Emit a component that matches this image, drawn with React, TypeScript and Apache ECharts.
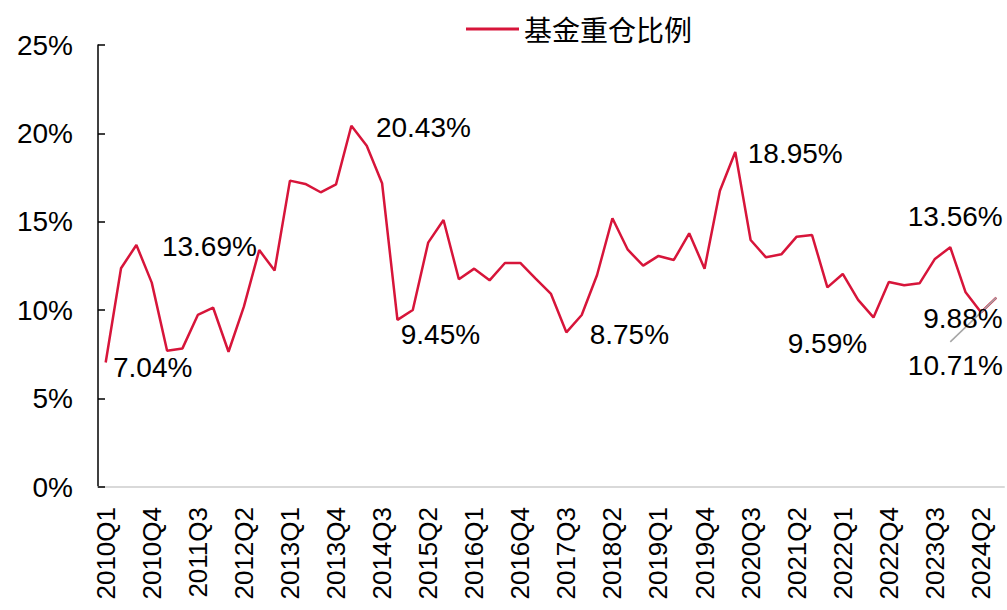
import React, { useEffect, useRef } from "react";
import * as echarts from "echarts";

const categories = [
  "2010Q1","2010Q2","2010Q3","2010Q4","2011Q1","2011Q2","2011Q3","2011Q4",
  "2012Q1","2012Q2","2012Q3","2012Q4","2013Q1","2013Q2","2013Q3","2013Q4",
  "2014Q1","2014Q2","2014Q3","2014Q4","2015Q1","2015Q2","2015Q3","2015Q4",
  "2016Q1","2016Q2","2016Q3","2016Q4","2017Q1","2017Q2","2017Q3","2017Q4",
  "2018Q1","2018Q2","2018Q3","2018Q4","2019Q1","2019Q2","2019Q3","2019Q4",
  "2020Q1","2020Q2","2020Q3","2020Q4","2021Q1","2021Q2","2021Q3","2021Q4",
  "2022Q1","2022Q2","2022Q3","2022Q4","2023Q1","2023Q2","2023Q3","2023Q4",
  "2024Q1","2024Q2","2024Q3",
];

const fundHoldingRatio = [
  7.04, 12.37, 13.69, 11.56, 7.71, 7.84, 9.73, 10.14,
  7.65, 10.2, 13.4, 12.24, 17.33, 17.14, 16.67, 17.12,
  20.43, 19.3, 17.18, 9.45, 10.01, 13.82, 15.1, 11.75,
  12.35, 11.69, 12.67, 12.67, 11.78, 10.92, 8.75, 9.73,
  11.99, 15.2, 13.42, 12.52, 13.07, 12.84, 14.35, 12.35,
  16.76, 18.95, 13.97, 12.99, 13.16, 14.16, 14.25, 11.29,
  12.05, 10.58, 9.59, 11.6, 11.41, 11.52, 12.9, 13.56,
  11.01, 9.88, 10.71,
];

const yTicks = [0, 5, 10, 15, 20, 25];
const seriesName = "基金重仓比例";

// annotated points (index in series) and label offsets (style)
const annotated = [
  { i: 0, off: [47, 5] },
  { i: 2, off: [73, 2] },
  { i: 16, off: [72, 2] },
  { i: 19, off: [43, 15] },
  { i: 30, off: [63, 2] },
  { i: 41, off: [60, 2] },
  { i: 50, off: [-46, 26] },
  { i: 55, off: [5, -31] },
  { i: 57, off: [-18, 6] },
  { i: 58, off: [-41, 68] },
];

const RED = "#D7153A";
const FONT = "'Liberation Sans', Arial, sans-serif";

export default function App() {
  const ref = useRef<HTMLDivElement>(null);
  useEffect(() => {
    if (!ref.current) return;
    const chart = echarts.init(ref.current, null, { renderer: "svg" });
    const last = categories.length - 1;
    chart.setOption({
      animation: false,
      backgroundColor: "#ffffff",
      legend: {
        left: 461,
        top: 10,
        icon: "rect",
        itemWidth: 53,
        itemHeight: 3,
        textStyle: { fontSize: 28, fontFamily: "'Noto Sans CJK SC'", color: "#000" },
        data: [seriesName],
      },
      grid: { left: 98, right: 3, top: 45, bottom: 123, containLabel: false },
      xAxis: {
        type: "category",
        data: categories,
        boundaryGap: true,
        axisLine: { show: true, lineStyle: { color: "#D9D9D9", width: 2 } },
        axisTick: { show: false },
        axisLabel: {
          interval: 2,
          rotate: 90,
          margin: 20,
          fontSize: 26,
          fontFamily: FONT,
          color: "#000",
        },
        splitLine: { show: false },
      },
      yAxis: {
        type: "value",
        min: yTicks[0],
        max: yTicks[yTicks.length - 1],
        interval: 5,
        axisLine: { show: true, lineStyle: { color: "#000", width: 1.5 } },
        axisTick: { show: true, inside: true, length: 7, lineStyle: { color: "#000", width: 1.5 } },
        axisLabel: {
          formatter: "{value}%",
          fontSize: 28,
          fontFamily: FONT,
          color: "#000",
          margin: 25,
        },
        splitLine: { show: false },
      },
      series: [
        {
          name: seriesName,
          type: "line",
          data: fundHoldingRatio,
          showSymbol: false,
          symbol: "none",
          lineStyle: { color: RED, width: 2.5 },
          itemStyle: { color: RED },
          markPoint: {
            symbol: "circle",
            symbolSize: 0,
            silent: true,
            label: {
              show: true,
              position: "inside",
              fontSize: 28,
              fontFamily: FONT,
              color: "#000",
              formatter: (p: any) => Number(p.value).toFixed(2) + "%",
            },
            data: annotated.map((a) => ({
              coord: [categories[a.i], fundHoldingRatio[a.i]],
              value: fundHoldingRatio[a.i],
              label: { offset: a.off },
            })),
          },
          markLine: {
            silent: true,
            symbol: ["none", "none"],
            label: { show: false },
            lineStyle: { color: "#A6A6A6", width: 1.5, type: "solid" },
            data: [
              [
                { coord: [last, fundHoldingRatio[last]] },
                { coord: [last - 2.8, fundHoldingRatio[last] - 2.5] },
              ],
            ],
          },
        },
      ],
    });
    return () => chart.dispose();
  }, []);
  return (
    <div
      ref={ref}
      style={{ position: "fixed", left: 0, top: 0, width: 1007, height: 610, background: "#fff" }}
    />
  );
}
